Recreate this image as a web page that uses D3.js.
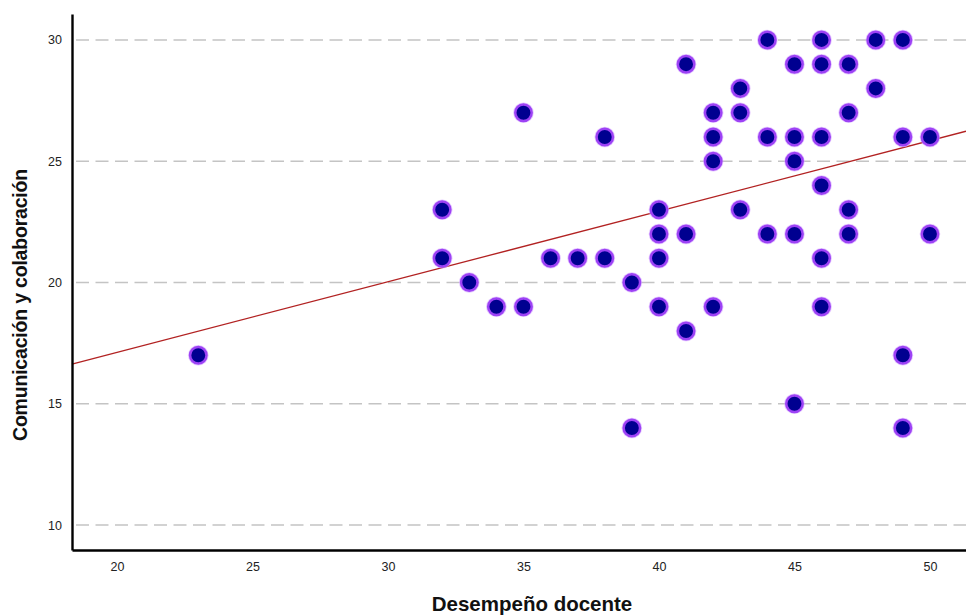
<!DOCTYPE html>
<html>
<head>
<meta charset="utf-8">
<script src="https://cdn.jsdelivr.net/npm/d3@7"></script>
<style>
  body { margin: 0; background: #fff; }
  text { font-family: "Liberation Sans", Arial, sans-serif; }
</style>
</head>
<body>
<div id="chart"></div>
<script>
// desempeño docente (x) vs comunicación y colaboración (y)
const desempeno = [23, 32, 32, 33, 34, 35, 35, 36, 37, 38, 38, 39, 39,
    40, 40, 40, 40, 41, 41, 41, 42, 42, 42, 42, 43, 43, 43, 44, 44, 44,
    45, 45, 45, 45, 45, 46, 46, 46, 46, 46, 46, 47, 47, 47, 47, 48, 48,
    49, 49, 49, 49, 50, 50];
const comunicacion = [17, 23, 21, 20, 19, 19, 27, 21, 21, 21, 26, 20, 14,
    23, 22, 21, 19, 29, 22, 18, 27, 26, 25, 19, 28, 27, 23, 30, 26, 22,
    29, 26, 25, 22, 15, 30, 29, 26, 24, 21, 19, 29, 27, 23, 22, 30, 28,
    30, 26, 17, 14, 26, 22];
const xTicks = [20, 25, 30, 35, 40, 45, 50];
const yTicks = [10, 15, 20, 25, 30];
// linea de ajuste
const fitIntercept = 11.3;
const fitSlope = 0.291;

const width = 966, height = 616;
const mLeft = 72, mRight = 966, mTop = 14, mBottom = 550;

const svg = d3.select('#chart').append('svg')
    .attr('width', width)
    .attr('height', height);

const x = d3.scaleLinear().domain([18.34, 51.33]).range([mLeft, mRight]);
const y = d3.scaleLinear().domain([8.97, 31.07]).range([mBottom, mTop]);

// gridlines
svg.append('g')
    .selectAll('line')
    .data(yTicks)
    .enter()
    .append('line')
    .attr('x1', mLeft)
    .attr('x2', mRight)
    .attr('y1', d => y(d))
    .attr('y2', d => y(d))
    .attr('stroke', '#c4c4c4')
    .attr('stroke-width', 1.6)
    .attr('stroke-dasharray', '13,6.5')
    .attr('stroke-dashoffset', -4);

// regression line
const xs = x.domain();
svg.append('line')
    .attr('x1', x(xs[0]))
    .attr('x2', x(xs[1]))
    .attr('y1', y(fitIntercept + fitSlope * xs[0]))
    .attr('y2', y(fitIntercept + fitSlope * xs[1]))
    .attr('stroke', '#b22222')
    .attr('stroke-width', 1.3);

// points
const data = desempeno.map((d, i) => ({x: d, y: comunicacion[i]}));
const pts = svg.append('g');
pts.selectAll('.halo')
    .data(data)
    .enter()
    .append('circle')
    .attr('class', 'halo')
    .attr('cx', d => x(d.x))
    .attr('cy', d => y(d.y))
    .attr('r', 10.3)
    .attr('fill', '#d2a2ff')
    .attr('opacity', 0.6);
pts.selectAll('.dot')
    .data(data)
    .enter()
    .append('circle')
    .attr('class', 'dot')
    .attr('cx', d => x(d.x))
    .attr('cy', d => y(d.y))
    .attr('r', 8.2)
    .attr('fill', '#000090')
    .attr('stroke', '#9d42f5')
    .attr('stroke-width', 2.5);

// axes
const yAxis = svg.append('g')
    .attr('transform', `translate(${mLeft},0)`)
    .call(d3.axisLeft(y).tickValues(yTicks).tickSize(0).tickPadding(10));
const xAxis = svg.append('g')
    .attr('transform', `translate(0,${mBottom})`)
    .call(d3.axisBottom(x).tickValues(xTicks).tickSize(0).tickPadding(12));

[xAxis, yAxis].forEach(a => {
    a.select('.domain').attr('stroke', '#000').attr('stroke-width', 2.4);
    a.selectAll('text')
        .attr('fill', '#222')
        .style('font-size', '12.5px')
        .style('font-family', '"Liberation Sans", Arial, sans-serif');
});

svg.append('text')
    .attr('x', 532)
    .attr('y', 611)
    .attr('text-anchor', 'middle')
    .style('font-size', '20.5px')
    .style('font-weight', 'bold')
    .attr('fill', '#111')
    .text('Desempeño docente');

svg.append('text')
    .attr('transform', 'translate(27,305) rotate(-90)')
    .attr('text-anchor', 'middle')
    .style('font-size', '19.5px')
    .style('font-weight', 'bold')
    .style('letter-spacing', '-0.2px')
    .attr('fill', '#111')
    .text('Comunicación y colaboración');
</script>
</body>
</html>
